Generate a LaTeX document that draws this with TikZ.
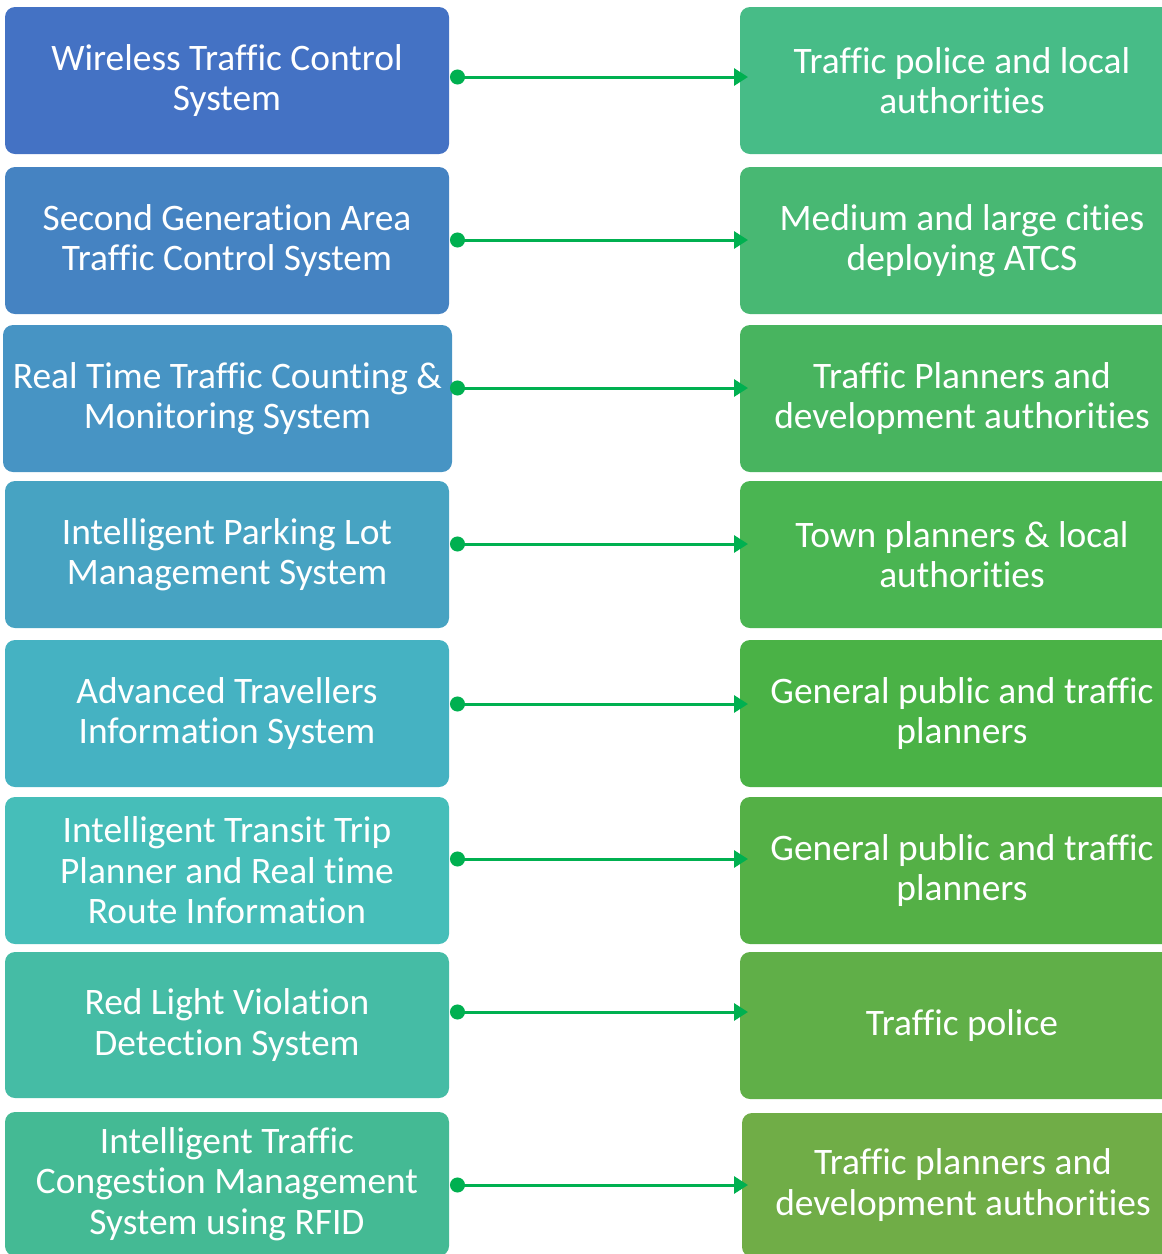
\documentclass[tikz,border=0pt]{standalone}
\usepackage{fontspec}
\setmainfont[Ligatures={NoCommon}]{Carlito}
\usetikzlibrary{arrows.meta}
\definecolor{L1}{RGB}{68,114,196}
\definecolor{L2}{RGB}{69,131,194}
\definecolor{L3}{RGB}{71,148,196}
\definecolor{L4}{RGB}{71,163,194}
\definecolor{L5}{RGB}{69,178,194}
\definecolor{L6}{RGB}{70,190,185}
\definecolor{L7}{RGB}{69,188,165}
\definecolor{L8}{RGB}{68,186,148}
\definecolor{R1}{RGB}{71,188,135}
\definecolor{R2}{RGB}{72,184,115}
\definecolor{R3}{RGB}{72,180,95}
\definecolor{R4}{RGB}{74,181,82}
\definecolor{R5}{RGB}{74,178,70}
\definecolor{R6}{RGB}{84,176,70}
\definecolor{R7}{RGB}{96,175,72}
\definecolor{R8}{RGB}{112,173,71}
\definecolor{arrowgreen}{RGB}{0,176,80}
\tikzset{
  box/.style={rounded corners=10pt, inner sep=0pt, align=center, text=white,
    font=\fontsize{37.4}{40.5}\selectfont},
  link/.style={draw=arrowgreen, line width=3pt,
    {Circle[length=15pt,width=15pt]}-{Triangle[length=14pt,width=17pt]}}
}
\begin{document}
\begin{tikzpicture}[x=1pt,y=-1pt]
\useasboundingbox (0,0) rectangle (1162,1254);
\begin{scope}
\clip (0,0) rectangle (1162,1254);
% left boxes
\node[box, fill=L1, minimum width=444pt, minimum height=147pt] (l1) at (227,80.5) {Wireless Traffic Control\\System};
\node[box, fill=L2, minimum width=444pt, minimum height=147pt] (l2) at (227,240.5) {Second Generation Area\\Traffic Control System};
\node[box, fill=L3, minimum width=449pt, minimum height=147pt] (l3) at (227.5,398.5) {Real Time Traffic Counting \&\\Monitoring System};
\node[box, fill=L4, minimum width=444pt, minimum height=147pt] (l4) at (227,554.5) {Intelligent Parking Lot\\Management System};
\node[box, fill=L5, minimum width=444pt, minimum height=147pt] (l5) at (227,713.5) {Advanced Travellers\\Information System};
\node[box, fill=L6, minimum width=444pt, minimum height=147pt] (l6) at (227,870.5) {Intelligent Transit Trip\\Planner and Real time\\Route Information};
\node[box, fill=L7, minimum width=444pt, minimum height=146pt] (l7) at (227,1025) {Red Light Violation\\Detection System};
\node[box, fill=L8, minimum width=444pt, minimum height=144pt] (l8) at (227,1184) {Intelligent Traffic\\Congestion Management\\System using RFID};
% right boxes
\node[box, fill=R1, minimum width=444pt, minimum height=147pt] (r1) at (962,80.5) {Traffic police and local\\authorities};
\node[box, fill=R2, minimum width=444pt, minimum height=147pt] (r2) at (962,240.5) {Medium and large cities\\deploying ATCS};
\node[box, fill=R3, minimum width=444pt, minimum height=147pt] (r3) at (962,398.5) {Traffic Planners and\\development authorities};
\node[box, fill=R4, minimum width=444pt, minimum height=147pt] (r4) at (962,554.5) {Town planners \& local\\authorities};
\node[box, fill=R5, minimum width=444pt, minimum height=147pt] (r5) at (962,713.5) {General public and traffic\\planners};
\node[box, fill=R6, minimum width=444pt, minimum height=147pt] (r6) at (962,870.5) {General public and traffic\\planners};
\node[box, fill=R7, minimum width=444pt, minimum height=147pt] (r7) at (962,1025.5) {Traffic police};
\node[box, fill=R8, minimum width=442pt, minimum height=144pt] (r8) at (963,1185) {Traffic planners and\\development authorities};
\end{scope}
% connector ends
\coordinate (a1) at (450,77);   \coordinate (b1) at (748,77);
\coordinate (a2) at (450,240);  \coordinate (b2) at (748,240);
\coordinate (a3) at (450,388);  \coordinate (b3) at (748,388);
\coordinate (a4) at (450,544);  \coordinate (b4) at (748,544);
\coordinate (a5) at (450,704);  \coordinate (b5) at (748,704);
\coordinate (a6) at (450,859);  \coordinate (b6) at (748,859);
\coordinate (a7) at (450,1012); \coordinate (b7) at (748,1012);
\coordinate (a8) at (450,1185); \coordinate (b8) at (748,1185);
\foreach \i in {1,...,8} {\draw[link] (a\i) -- (b\i);}
\end{tikzpicture}
\end{document}
